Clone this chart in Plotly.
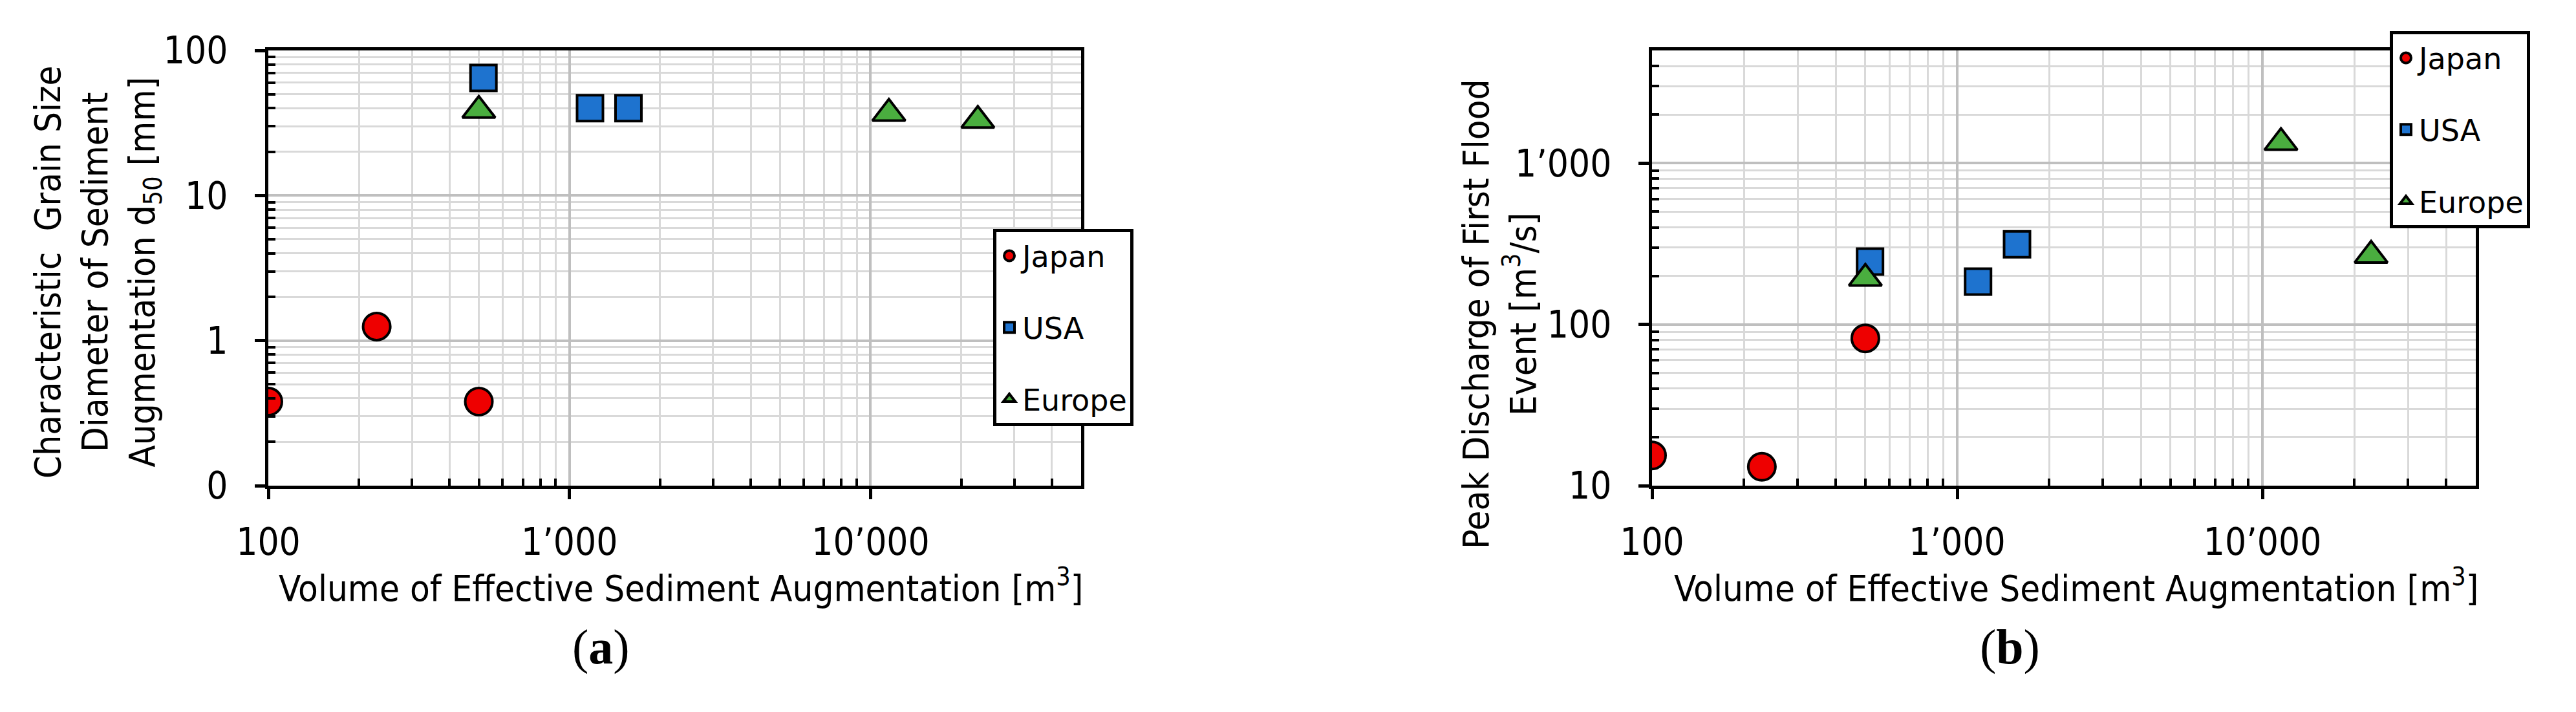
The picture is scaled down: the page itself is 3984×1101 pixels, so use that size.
import plotly.graph_objects as go

# volumes of effective sediment augmentation [m3]
vol_japan = [100, 229, 500]
vol_usa = [518, 1170, 1570]
vol_europe = [500, 11500, 22700]

# (a) characteristic grain size d50 [mm]
d50_japan = [0.38, 1.25, 0.38]
d50_usa = [64.6, 40, 40]
d50_europe = [38.6, 36.8, 32.9]

# (b) peak discharge of first flood event [m3/s]
q_japan = [15.4, 13.1, 82]
q_usa = [245, 184, 314]
q_europe = [193, 1340, 268]

groups = ["Japan", "USA", "Europe"]
colors = {"Japan": "#ee0000", "USA": "#1e73cf", "Europe": "#4aae3f"}
symbols = {"Japan": "circle", "USA": "square", "Europe": "triangle-up"}
sizes = {"Japan": 42, "USA": 40, "Europe": 44}

x_ticks = [100, 1000, 10000]
x_ticktext = ["100", "1\u2019000", "10\u2019000"]
ya_ticks = [0.1, 1, 10, 100]
ya_ticktext = ["0", "1", "10", "100"]
yb_ticks = [10, 100, 1000]
yb_ticktext = ["10", "100", "1\u2019000"]

W, H = 3984, 1101
FONT = "DejaVu Sans Condensed, Liberation Sans, Arial, sans-serif"
LEGEND_FONT = "DejaVu Sans, Verdana, sans-serif"


def minor_vals(lo, hi):
    vals = []
    dec = lo
    while dec < hi:
        vals += [k * dec for k in range(2, 10) if k * dec < hi]
        dec *= 10
    return vals


fig = go.Figure()

panels = [
    ("x", "y", "legend", [vol_japan, vol_usa, vol_europe], [d50_japan, d50_usa, d50_europe]),
    ("x2", "y2", "legend2", [vol_japan, vol_usa, vol_europe], [q_japan, q_usa, q_europe]),
]
for xa, ya, leg, xs, ys in panels:
    for g, xv, yv in zip(groups, xs, ys):
        fig.add_trace(
            go.Scatter(
                x=xv,
                y=yv,
                mode="markers",
                name=g,
                xaxis=xa,
                yaxis=ya,
                legend=leg,
                legendgroup=f"{leg}_{g}",
                marker={
                    "symbol": symbols[g],
                    "size": sizes[g],
                    "color": colors[g],
                    "line": {"color": "black", "width": 4},
                },
            )
        )

axis_common = dict(
    type="log",
    automargin=False,
    showline=True,
    linecolor="black",
    linewidth=5,
    mirror=True,
    ticks="outside",
    ticklen=16,
    tickwidth=5,
    tickcolor="black",
    showgrid=True,
    gridcolor="#bfbfbf",
    gridwidth=3.5,
    zeroline=False,
    tickfont={"family": FONT, "size": 58, "color": "black"},
    tickmode="array",
)


def minor(vals):
    return dict(
        tickvals=vals,
        ticks="inside",
        ticklen=11,
        tickwidth=4,
        tickcolor="black",
        showgrid=True,
        gridcolor="#d9d9d9",
        gridwidth=2.5,
    )


xa_dom = [407 / W, 1664 / W]
xb_dom = [2547 / W, 3821 / W]
y_dom = [1 - 743 / H, 1 - 70 / H]

legend_style = dict(
    xanchor="left", yanchor="top",
    bgcolor="white", bordercolor="black", borderwidth=5,
    font={"family": LEGEND_FONT, "size": 46, "color": "black"},
    tracegroupgap=48, itemwidth=30,
)

fig.update_layout(
    width=W,
    height=H,
    margin={"l": 0, "r": 0, "t": 0, "b": 0, "autoexpand": False},
    paper_bgcolor="white",
    plot_bgcolor="white",
    xaxis=dict(axis_common, domain=xa_dom, anchor="y", range=[2, 4.69897],
               tickvals=x_ticks, ticktext=x_ticktext, ticklabelstandoff=16,
               minor=minor(minor_vals(100, 50000))),
    yaxis=dict(axis_common, domain=y_dom, anchor="x", range=[-1, 2],
               tickvals=ya_ticks, ticktext=ya_ticktext, ticklabelstandoff=30,
               minor=minor(minor_vals(0.1, 100))),
    xaxis2=dict(axis_common, domain=xb_dom, anchor="y2", range=[2, 4.69897],
                tickvals=x_ticks, ticktext=x_ticktext, ticklabelstandoff=16,
                minor=minor(minor_vals(100, 50000))),
    yaxis2=dict(axis_common, domain=y_dom, anchor="x2", range=[1, 3.69897],
                tickvals=yb_ticks, ticktext=yb_ticktext, ticklabelstandoff=30,
                minor=minor(minor_vals(10, 5000))),
    legend=dict(legend_style, x=1528 / W, y=1 - 346 / H),
    legend2=dict(legend_style, x=3688 / W, y=1 - 40 / H),
)

title_font = {"family": FONT, "size": 56, "color": "black"}
notes = [
    (1045, 897, 0, "Volume of Effective Sediment Augmentation [m<sup>3</sup>]"),
    (3203, 897, 0, "Volume of Effective Sediment Augmentation [m<sup>3</sup>]"),
    (142, 413, -90, "Characteristic  Grain Size<br>Diameter of Sediment<br>Augmentation d<sub>50</sub> [mm]"),
    (2311, 478, -90, "Peak Discharge of First Flood<br>Event [m<sup>3</sup>/s]"),
]
for px, py, ang, txt in notes:
    fig.add_annotation(
        x=px / W, y=1 - py / H, xref="paper", yref="paper",
        xanchor="center", yanchor="middle", textangle=ang,
        text=txt, showarrow=False, font=title_font,
    )

for px, lab in [(921, "a"), (3100, "b")]:
    fig.add_annotation(
        x=px / W, y=1 - 992 / H, xref="paper", yref="paper",
        xanchor="center", yanchor="middle",
        text=f"(<b>{lab}</b>)", showarrow=False,
        font={"family": "Liberation Serif, DejaVu Serif, serif", "size": 76, "color": "black"},
    )

fig.write_html("out.html")
